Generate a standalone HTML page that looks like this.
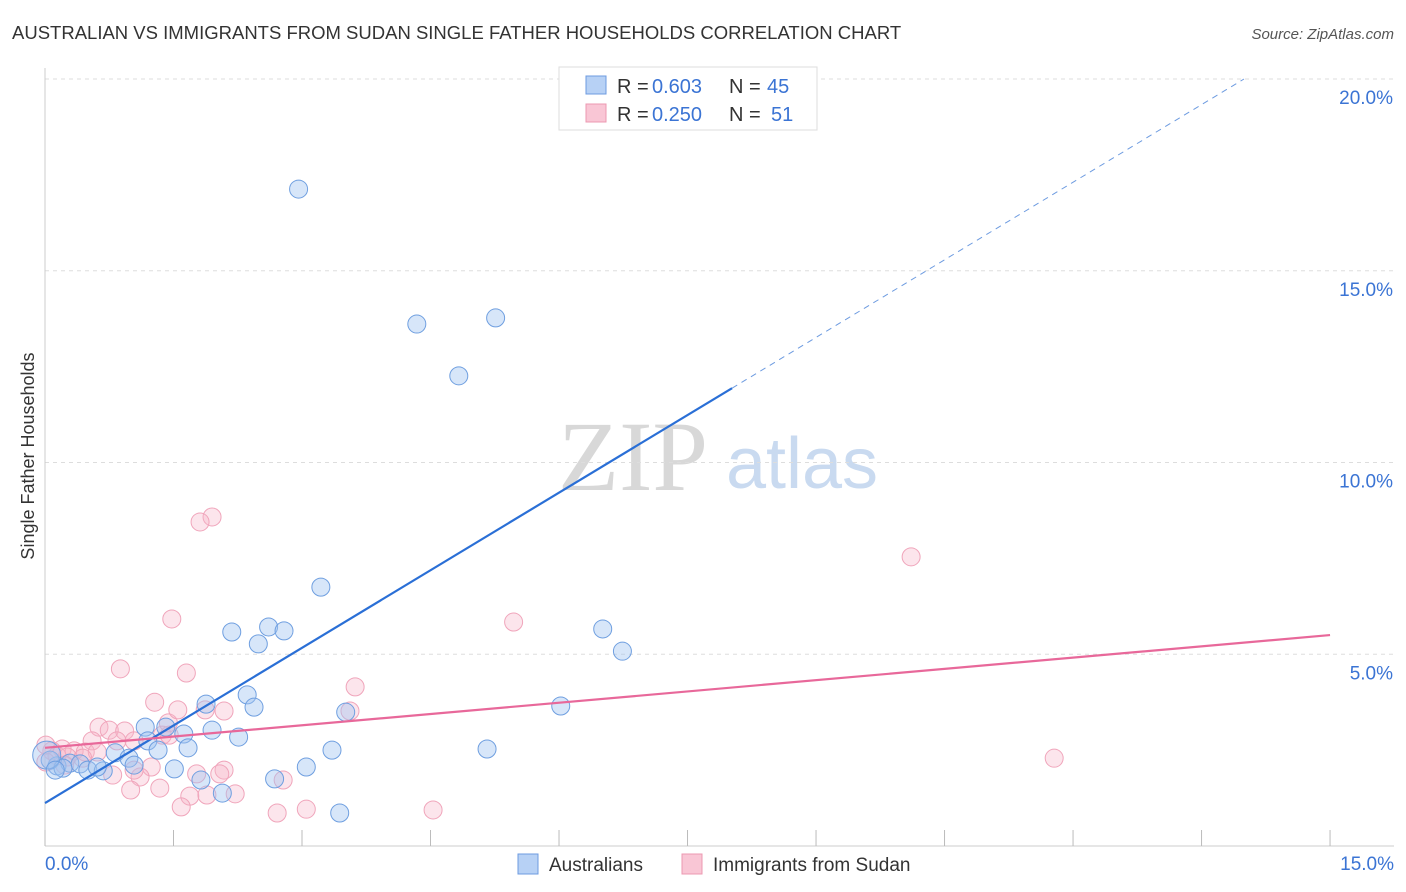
<!DOCTYPE html>
<html><head><meta charset="utf-8"><style>
body{margin:0;background:#fff;font-family:"Liberation Sans",sans-serif;}
svg{display:block}
</style></head><body>
<svg id="chart" width="1406" height="892" xmlns="http://www.w3.org/2000/svg">
<text x="12" y="39" font-size="18.5" fill="#333">AUSTRALIAN VS IMMIGRANTS FROM SUDAN SINGLE FATHER HOUSEHOLDS CORRELATION CHART</text>
<text x="1394" y="39" font-size="15" fill="#555" font-style="italic" text-anchor="end">Source: ZipAtlas.com</text>
<g>
<text x="633" y="490" font-size="100" fill="#d8d8d8" font-family="Liberation Serif,serif" text-anchor="middle">ZIP</text>
<text x="802" y="488" font-size="72" fill="#c9daf0" text-anchor="middle">atlas</text>
</g>
<g id="grid"></g>
<g id="axes"></g>
<g id="points"></g>
<g id="lines"></g>
<text transform="translate(34,456) rotate(-90)" font-size="18" fill="#333" text-anchor="middle">Single Father Households</text>
<g>
<rect x="559" y="67" width="258" height="63" fill="#fff" stroke="#ddd"/>
<rect x="586" y="76" width="20" height="18" fill="#b7d1f5" stroke="#6d9be0"/>
<rect x="586" y="104" width="20" height="18" fill="#f9c6d5" stroke="#ec98b1"/>
<g font-size="20">
<text x="617" y="93" fill="#333">R =</text><text x="652" y="93" fill="#3b74d4">0.603</text>
<text x="729" y="93" fill="#333">N =</text><text x="767" y="93" fill="#3b74d4">45</text></g>
<g font-size="20">
<text x="617" y="121" fill="#333">R =</text><text x="652" y="121" fill="#3b74d4">0.250</text>
<text x="729" y="121" fill="#333">N =</text><text x="771" y="121" fill="#3b74d4">51</text></g>
</g>
<g>
<rect x="518" y="854" width="20" height="20" fill="#b7d1f5" stroke="#6d9be0"/>
<text x="549" y="871" font-size="19" fill="#333">Australians</text>
<rect x="682" y="854" width="20" height="20" fill="#f9c6d5" stroke="#ec98b1"/>
<text x="713" y="871" font-size="19" fill="#333">Immigrants from Sudan</text>
</g>
</svg>
<script>
const yTicks=[5,10,15,20];
const yTickLabels=["5.0%","10.0%","15.0%","20.0%"];
const xTicks=[0,1.5,3,4.5,6,7.5,9,10.5,12,13.5,15];
const xEndLabels=["0.0%","15.0%"];
const ausX=[2.96,4.34,5.26,4.83,3.22,2.18,2.61,2.79,2.49,6.51,6.74,6.02,2.36,1.88,2.44,3.51,1.17,1.41,1.95,1.62,2.26,1.20,1.67,1.32,3.35,5.16,0.82,0.98,1.04,0.14,0.06,0.29,0.41,0.50,0.68,1.51,1.82,2.68,3.05,2.07,3.44,0.21,0.61,0.02,0.12];
const ausY=[17.13,13.61,13.77,12.26,6.75,5.58,5.71,5.61,5.27,5.66,5.08,3.65,3.94,3.70,3.62,3.49,3.10,3.10,3.02,2.92,2.84,2.74,2.56,2.50,2.50,2.53,2.43,2.29,2.11,2.09,2.24,2.16,2.14,1.98,1.96,2.01,1.72,1.75,2.06,1.38,0.86,2.03,2.06,2.37,1.98];
const sudX=[1.95,1.81,10.11,1.48,5.47,0.88,1.65,3.62,1.28,3.56,1.44,1.55,1.87,2.09,0.63,0.75,0.93,0.55,0.84,1.04,1.37,0.20,0.34,0.47,0.61,0.08,0.14,0.26,0.44,0.01,1.24,1.11,1.77,2.09,2.04,1.04,0.79,1.00,1.34,1.69,1.89,2.22,1.59,2.71,3.05,4.53,2.78,11.78,0.01,1.45,0.23];
const sudY=[8.58,8.45,7.54,5.92,5.84,4.62,4.51,4.15,3.75,3.52,3.21,3.55,3.55,3.52,3.10,3.02,3.00,2.74,2.74,2.74,2.89,2.53,2.48,2.45,2.45,2.48,2.35,2.32,2.29,2.19,2.06,1.80,1.88,1.98,1.88,1.98,1.85,1.46,1.51,1.30,1.33,1.36,1.02,0.86,0.96,0.94,1.72,2.29,2.63,2.89,2.11];
const ausTrend=[1.12,1.349];
const ausSolidEnd=[8.02];
const sudTrend=[2.56,0.196];
const X=v=>45+v*85.67, Y=v=>846-v*38.35;
const NS="http://www.w3.org/2000/svg";
function mk(tag,attrs,parent){const e=document.createElementNS(NS,tag);for(const k in attrs)e.setAttribute(k,attrs[k]);parent.appendChild(e);return e;}
const grid=document.getElementById('grid'),axes=document.getElementById('axes'),pts=document.getElementById('points'),lines=document.getElementById('lines');
yTicks.forEach((t,i)=>{
 const l=mk('line',{x1:45,x2:1394,y1:Y(t),y2:Y(t),stroke:'#ddd','stroke-dasharray':'4,4'},grid);
 
 
 const tx=mk('text',{x:1393,y:Y(t)+25,'font-size':19,fill:'#3b74d4','text-anchor':'end'},axes);
 tx.textContent=yTickLabels[i];
 
 
});
const ya=mk('line',{x1:45,x2:45,y1:68,y2:846,stroke:'#ccc'},axes);


const xa=mk('line',{x1:45,x2:1394,y1:846,y2:846,stroke:'#ccc'},axes);


xTicks.forEach(t=>{
 const l=mk('line',{x1:X(t),x2:X(t),y1:830,y2:846,stroke:'#bbb'},axes);
 
 
});
[[0,'start'],[15,'end']].forEach((p,i)=>{
 const tx=mk('text',{x:i?1394:45,y:870,'font-size':19,fill:'#3b74d4','text-anchor':p[1]},axes);
 tx.textContent=xEndLabels[i];
 
 
});
function drawPts(xs,ys,fill,stroke,name){
 xs.forEach((x,i)=>{
  const big=(x<0.05&&name==='point-australians'&&ys[i]>2.3);
  const c=mk('circle',{cx:X(x),cy:Y(ys[i]),r:big?14:9,fill:fill,stroke:stroke,'stroke-width':1},pts);
  
  
 });
}
drawPts(sudX,sudY,'rgba(247,180,200,0.35)','#f0a5bb','point-sudan');
drawPts(ausX,ausY,'rgba(160,196,240,0.42)','#6f9fe0','point-australians');
const a1=mk('line',{x1:X(0),y1:Y(ausTrend[0]),x2:X(ausSolidEnd[0]),y2:Y(ausTrend[0]+ausTrend[1]*ausSolidEnd[0]),stroke:'#2a6fd6','stroke-width':2.2},lines);


const xEnd=(20-ausTrend[0])/ausTrend[1];
const a2=mk('line',{x1:X(ausSolidEnd[0]),y1:Y(ausTrend[0]+ausTrend[1]*ausSolidEnd[0]),x2:X(xEnd),y2:Y(20),stroke:'#6d9be0','stroke-width':1,'stroke-dasharray':'6,5'},lines);


const s1=mk('line',{x1:X(0),y1:Y(sudTrend[0]),x2:X(15),y2:Y(sudTrend[0]+sudTrend[1]*15),stroke:'#e8689a','stroke-width':2.2},lines);


</script>
</body></html>
